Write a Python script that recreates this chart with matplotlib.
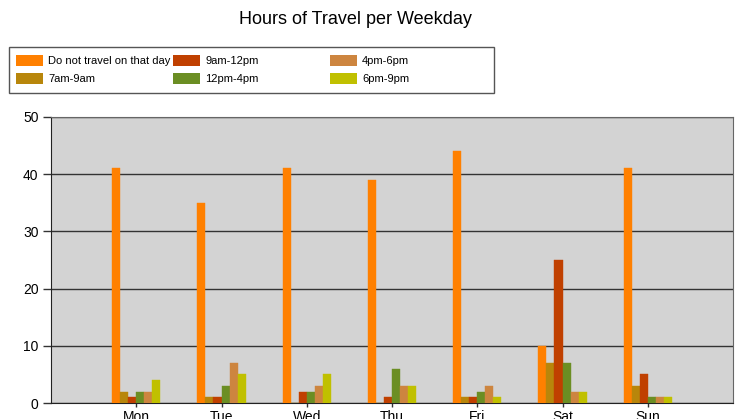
import matplotlib.pyplot as plt
from matplotlib.patches import Rectangle
import numpy as np

plt.rcParams['font.family'] = ['Liberation Sans', 'DejaVu Sans']

days = ['Mon', 'Tue', 'Wed', 'Thu', 'Fri', 'Sat', 'Sun']
series_names = ['Do not travel on that day', '7am-9am', '9am-12pm',
                '12pm-4pm', '4pm-6pm', '6pm-9pm']
no_travel = [41, 35, 41, 39, 44, 10, 41]
am7_9 = [2, 1, 0, 0, 1, 7, 3]
am9_12 = [1, 1, 2, 1, 1, 25, 5]
pm12_4 = [2, 3, 2, 6, 2, 7, 1]
pm4_6 = [2, 7, 3, 3, 3, 2, 1]
pm6_9 = [4, 5, 5, 3, 1, 2, 1]
values = [no_travel, am7_9, am9_12, pm12_4, pm4_6, pm6_9]
colors = ['#FF8000', '#B8860B', '#C04000', '#6B8E23', '#CD853F', '#C0C000']

fig = plt.figure(figsize=(7.4, 4.19), dpi=100)
ax = fig.add_axes([51/740, 16/419, 682/740, 286/419])
ax.set_facecolor('#D3D3D3')

x = np.arange(1, len(days) + 1)
w = 0.094
for i, (vals, c) in enumerate(zip(values, colors)):
    ax.bar(x + (i - 2.5) * w, vals, width=w, color=c, edgecolor=c,
           linewidth=0.3, zorder=3)

ax.set_xlim(0, 8)
ax.set_ylim(0, 50)
ax.set_yticks([0, 10, 20, 30, 40, 50])
ax.set_xticks(x)
ax.set_xticklabels(days)
ax.yaxis.grid(True, color='#333333', linewidth=1)
ax.set_axisbelow(True)
ax.tick_params(axis='y', length=6, width=1, color='#333333', labelsize=10, pad=3)
ax.tick_params(axis='x', length=3, width=1, color='#333333', labelsize=10, pad=2)
for s in ['left', 'bottom']:
    ax.spines[s].set_color('#222222')
for s in ['top', 'right']:
    ax.spines[s].set_color('#666666')

fig.text(355/740, 1 - 20/419, 'Hours of Travel per Weekday', ha='center',
         va='center', fontsize=13)

# legend drawn by hand to get fixed column widths
fig.patches.append(Rectangle((9/740, 1 - 93/419), 485/740, 46/419,
                             transform=fig.transFigure, facecolor='white',
                             edgecolor='#555555', linewidth=1))
col_x = [16, 173, 330]
row_y = [61, 79]
for i, (name, c) in enumerate(zip(series_names, colors)):
    cx = col_x[i // 2]
    cy = row_y[i % 2]
    fig.patches.append(Rectangle((cx/740, 1 - (cy + 5.5)/419), 27/740, 11/419,
                                 transform=fig.transFigure, facecolor=c,
                                 edgecolor='none'))
    fig.text((cx + 32)/740, 1 - cy/419, name, ha='left', va='center',
             fontsize=8)

fig.savefig('out.png', dpi=100)
